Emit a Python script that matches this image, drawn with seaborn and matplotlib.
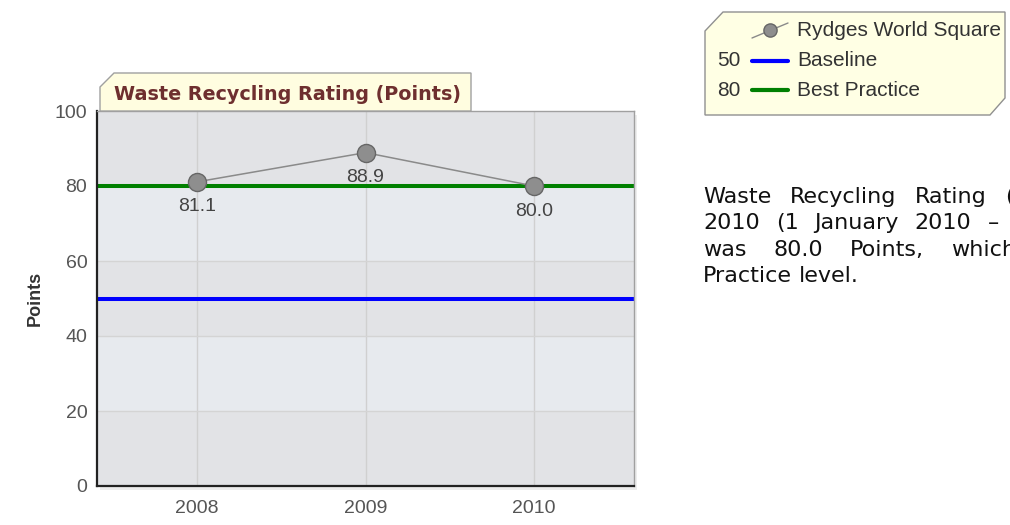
import numpy as np
import pandas as pd
import matplotlib
matplotlib.use("Agg")
import matplotlib.pyplot as plt
import seaborn as sns
from matplotlib.patches import Polygon, Rectangle
from matplotlib.lines import Line2D

# datos del grafico
years = [2008, 2009, 2010]
rating = [81.1, 88.9, 80.0]
series_name = "Rydges World Square"
baseline = 50
best_practice = 80
chart_title = "Waste Recycling Rating (Points)"
y_label = "Points"
y_ticks = [0, 20, 40, 60, 80, 100]
summary_lines = [
    ["Waste", "Recycling", "Rating", "(Points)"],
    ["2010", "(1", "January", "2010", "\u2013", "31"],
    ["was", "80.0", "Points,", "which", "is"],
    ["Practice", "level."],
]
summary_gaps = [18.5, 16, 27, 7]

W, H = 1010, 525


def fx(px):
    return px / W


def fy(py):
    return 1 - py / H


sns.set_style("white")
plt.rcParams["font.family"] = ["Liberation Sans", "DejaVu Sans"]

fig = plt.figure(figsize=(10.1, 5.25), dpi=100)
ax = fig.add_axes([fx(97), fy(486), fx(634) - fx(97), fy(111) - fy(486)])

# sombra del area del grafico
fig.patches.append(Rectangle((fx(100), fy(490)), fx(634) - fx(97), fy(111) - fy(486),
                             transform=fig.transFigure, facecolor="#000000", alpha=0.07,
                             lw=0, zorder=-1))

# bandas de fondo
band_colors = ["#e2e3e6", "#e7eaee"]
for i, lo in enumerate(y_ticks[:-1]):
    ax.axhspan(lo, y_ticks[i + 1], color=band_colors[i % 2], zorder=0, lw=0)

for yr in years:
    ax.axvline(yr, color="#d0d0d0", lw=1, zorder=1)
for yt in y_ticks[1:-1]:
    ax.axhline(yt, color="#d4d4d4", lw=1, zorder=1)

ax.axhline(baseline, color="#0000ff", lw=2.9, zorder=2)
ax.axhline(best_practice, color="#008000", lw=2.9, zorder=2)

df = pd.DataFrame({"year": years, "rating": rating})
sns.lineplot(data=df, x="year", y="rating", ax=ax, color="#8a8a8a", lw=1.1,
             marker="o", markersize=13, markerfacecolor="#8e8e8e",
             markeredgecolor="#666666", markeredgewidth=1, zorder=3)

for yr, v in zip(years, rating):
    ax.annotate(f"{v:.1f}", (yr, v), xytext=(0, -18), textcoords="offset points",
                ha="center", va="center", fontsize=14, color="#444444", zorder=4)

ax.set_xlim(years[0] - 0.593, years[-1] + 0.593)
ax.set_ylim(y_ticks[0], y_ticks[-1])
ax.set_xticks(years)
ax.set_xticklabels([str(y) for y in years])
ax.set_yticks(y_ticks)
ax.tick_params(axis="both", direction="out", length=4, width=1.2, color="#222222",
               labelcolor="#555555", labelsize=14, pad=3)
ax.tick_params(axis="x", pad=6)
ax.set_xlabel("")
ax.set_ylabel(y_label, fontsize=13, fontweight="bold", color="#333333")
ax.yaxis.set_label_coords(-0.1, 0.5)

for side in ["left", "bottom"]:
    ax.spines[side].set_color("#222222")
    ax.spines[side].set_linewidth(1.6)
for side in ["top", "right"]:
    ax.spines[side].set_color("#a0a0a0")
    ax.spines[side].set_linewidth(1)
    ax.spines[side].set_visible(True)

# pestaña del titulo
tab = Polygon([(fx(100), fy(111)), (fx(100), fy(87)), (fx(114), fy(73)),
               (fx(471), fy(73)), (fx(471), fy(111))], closed=True,
              transform=fig.transFigure, facecolor="#fffde0", edgecolor="#a0a0a0",
              lw=1, zorder=5)
fig.patches.append(tab)
fig.text(fx(114), fy(95), chart_title, ha="left", va="center", fontsize=13.8,
         fontweight="bold", color="#6e2f2f", family="DejaVu Sans", zorder=6)

# leyenda
leg = Polygon([(fx(705), fy(115)), (fx(705), fy(31)), (fx(723), fy(12)),
               (fx(1005), fy(12)), (fx(1005), fy(98)), (fx(990), fy(115))],
              closed=True, transform=fig.transFigure, facecolor="#ffffe4",
              edgecolor="#909090", lw=1, zorder=5)
fig.patches.append(leg)

fig.lines.append(Line2D([fx(752), fx(788)], [fy(38), fy(23)], transform=fig.transFigure,
                        color="#8a8a8a", lw=1, zorder=6))
fig.lines.append(Line2D([fx(770)], [fy(30)], transform=fig.transFigure, marker="o",
                        markersize=9.5, markerfacecolor="#8e8e8e", markeredgecolor="#666666",
                        lw=0, zorder=7))
fig.text(fx(797), fy(31), series_name, ha="left", va="center", fontsize=15,
         color="#333333", zorder=7)

for row_y, val, col, name in [(61, baseline, "#0000ff", "Baseline"),
                              (90, best_practice, "#008000", "Best Practice")]:
    fig.text(fx(741), fy(row_y), str(val), ha="right", va="center", fontsize=15,
             color="#333333", zorder=7)
    fig.lines.append(Line2D([fx(752), fx(788)], [fy(row_y), fy(row_y)],
                            transform=fig.transFigure, color=col, lw=3, zorder=6))
    fig.text(fx(797), fy(row_y), name, ha="left", va="center", fontsize=15,
             color="#333333", zorder=7)

# texto de resumen (justificado a mano)
renderer = fig.canvas.get_renderer()
line_base = [203, 229, 256, 282]
for words, gap, yy in zip(summary_lines, summary_gaps, line_base):
    xx = 703
    for wtxt in words:
        t = fig.text(fx(xx), fy(yy), wtxt, ha="left", va="baseline", fontsize=16,
                     color="#111111", family="DejaVu Sans")
        xx += t.get_window_extent(renderer).width + gap

fig.savefig("out.png", dpi=100)
